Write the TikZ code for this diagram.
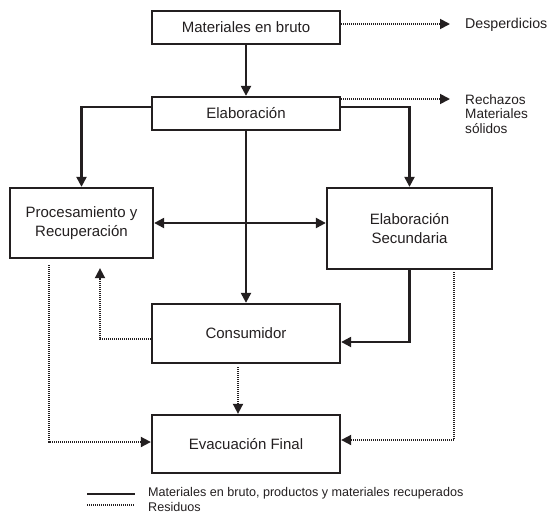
\documentclass[tikz,border=0pt]{standalone}
\usepackage{fontspec}
\setmainfont{Liberation Sans}
\usetikzlibrary{arrows.meta}
\definecolor{ink}{HTML}{231F20}
\begin{document}
\begin{tikzpicture}[x=1pt,y=-1pt,
  box/.style={draw=ink,line width=2.3pt,inner sep=0pt,align=center,
    font=\fontsize{15}{19}\selectfont,text=ink},
  flow/.style={draw=ink,line width=2.2pt,-{Triangle[length=10pt,width=10pt]}},
  waste/.style={draw=ink,line width=1.8pt,dash pattern=on 1pt off 1pt,
    -{Triangle[length=10pt,width=10pt]}},
  side/.style={anchor=west,align=left,inner sep=0pt,text=ink},
  legtext/.style={anchor=west,inner sep=0pt,text=ink,font=\fontsize{12.6}{14}\selectfont}]
\useasboundingbox (0,0) rectangle (554,514);
% boxes
\node[box,minimum width=188pt,minimum height=33pt] (mb) at (246,27.5) {Materiales en bruto};
\node[box,minimum width=188pt,minimum height=33pt] (el) at (246,113.5) {Elaboración};
\node[box,minimum width=143pt,minimum height=70pt] (pr) at (81.5,223) {Procesamiento y\\Recuperación};
\node[box,minimum width=165pt,minimum height=81pt] (es) at (409.5,228.5) {Elaboración\\Secundaria};
\node[box,minimum width=188pt,minimum height=59pt] (co) at (246,333.5) {Consumidor};
\node[box,minimum width=188pt,minimum height=58pt] (ev) at (246,444) {Evacuación Final};
% side outputs
\coordinate (d1) at (450,24);
\node[side,font=\fontsize{14.2}{16}\selectfont] (desp) at (465,25) {Desperdicios};
\coordinate (d2) at (450,99);
\node[side,font=\fontsize{13.6}{14.5}\selectfont] (rech) at (465,114) {Rechazos\\Materiales\\sólidos};
\draw[waste] (mb.east |- d1) -- (d1);
\draw[waste] (el.east |- d2) -- (d2);
% main flows
\draw[flow] (mb.south) -- (el.north);
\coordinate (elr) at (0,107);
\draw[flow] (el.west |- elr) -| (pr.north);
\draw[flow] (el.east |- elr) -| (es.north);
\draw[flow,{Triangle[length=10pt,width=10pt]}-{Triangle[length=10pt,width=10pt]}] (pr.east) -- (pr.east -| es.west);
\draw[flow] (el.south) -- (co.north);
\coordinate (esc) at (0,342);
\draw[flow] (es.south) |- (co.east |- esc);
% waste flows
\coordinate (prb) at ([xshift=18.5pt]pr.south);
\coordinate (col) at (0,339);
\draw[waste,shorten >=9pt] (co.west |- col) -| (prb);
\coordinate (pra) at ([xshift=-32.5pt]pr.south);
\coordinate (evl) at (0,442);
\draw[waste,shorten <=6pt] (pra) |- (ev.west |- evl);
\coordinate (esa) at ([xshift=44.5pt]es.south);
\coordinate (evr) at (0,440);
\draw[waste,shorten <=2pt] (esa) |- (ev.east |- evr);
\coordinate (coa) at ([xshift=-8pt]co.south);
\draw[waste,shorten <=3pt] (coa) -- (coa |- ev.north);
% legend
\coordinate (l1a) at (87,494);
\coordinate (l1b) at (135,494);
\coordinate (l2a) at (87,505);
\coordinate (l2b) at (135,505);
\draw[ink,line width=2.2pt] (l1a) -- (l1b);
\draw[ink,line width=1.8pt,dash pattern=on 1pt off 1pt] (l2a) -- (l2b);
\node[legtext] (lt1) at (148,493) {Materiales en bruto, productos y materiales recuperados};
\node[legtext] (lt2) at (148,507) {Residuos};
\end{tikzpicture}
\end{document}
